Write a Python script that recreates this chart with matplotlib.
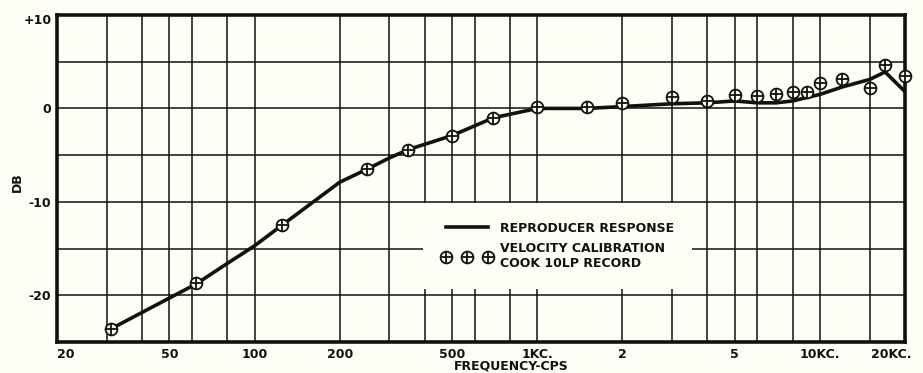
import matplotlib
matplotlib.use('Agg')
import matplotlib.pyplot as plt
from matplotlib.lines import Line2D
from matplotlib.transforms import ScaledTranslation
import numpy as np

# reproducer response curve
freq_curve = [31, 62, 80, 100, 125, 200, 250, 300, 350, 500, 700, 1000, 1500, 2000,
              3000, 4000, 5000, 6000, 7000, 8000, 10000, 12000, 15000, 17000, 20000]
db_curve = [-23.6, -18.8, -16.6, -14.7, -12.5, -7.9, -6.5, -5.3, -4.4, -2.9, -1.0, 0.0, 0.0, 0.2,
            0.5, 0.6, 0.8, 0.6, 0.6, 0.8, 1.5, 2.3, 3.1, 3.9, 1.8]

# velocity calibration points, Cook 10LP record
freq_cal = [31, 62, 125, 250, 350, 500, 700, 1000, 1500, 2000, 3000, 4000, 5000, 6000,
            7000, 8000, 9000, 10000, 12000, 15000, 17000, 20000]
db_cal = [-23.6, -18.7, -12.5, -6.5, -4.4, -2.9, -1.0, 0.1, 0.2, 0.6, 1.2, 0.8, 1.4, 1.3,
          1.5, 1.8, 1.8, 2.7, 3.1, 2.2, 4.6, 3.5]

xtick_vals = [20, 50, 100, 200, 500, 1000, 2000, 5000, 10000, 20000]
xtick_labels = ['20', '50', '100', '200', '500', '1KC.', '2', '5', '10KC.', '20KC.']
xgrid_extra = [30, 40, 60, 80, 300, 400, 600, 800, 3000, 4000, 6000, 8000, 15000]
ytick_vals = [-20, -10, 0, 10]
ytick_labels = ['-20', '-10', '0', '+10']
ygrid_extra = [-25, -15, -5, 5]

bg = '#fefef6'
ink = '#111111'

fig = plt.figure(figsize=(9.23, 3.73), dpi=100, facecolor=bg)
ax = fig.add_axes([57/923, 31/373, 848/923, 327/373], facecolor=bg)

ax.set_xscale('log')
ax.set_xlim(20, 20000)
ax.set_ylim(-25, 10)

ax.set_xticks(xtick_vals)
ax.set_xticklabels(xtick_labels)
ax.set_xticks(xgrid_extra, minor=True)
ax.set_xticklabels([], minor=True)
ax.set_yticks(ytick_vals)
ax.set_yticklabels(ytick_labels)
ax.set_yticks(ygrid_extra, minor=True)
ax.tick_params(which='both', length=0)
ax.tick_params(axis='x', pad=4)
ax.tick_params(axis='y', pad=4)
for lab in ax.get_xticklabels() + ax.get_yticklabels():
    lab.set_fontweight('bold')
    lab.set_fontsize(9)
    lab.set_color(ink)

xl = ax.get_xticklabels()
xl[0].set_horizontalalignment('left')
xl[-1].set_horizontalalignment('right')
xl[-1].set_transform(xl[-1].get_transform() + ScaledTranslation(7/100, 0, fig.dpi_scale_trans))
yl = ax.get_yticklabels()
yl[-1].set_transform(yl[-1].get_transform() + ScaledTranslation(0, -4/100, fig.dpi_scale_trans))

ax.grid(True, which='both', color=ink, linewidth=1.1)
ax.set_axisbelow(True)
for s in ax.spines.values():
    s.set_linewidth(2.6)
    s.set_color(ink)

ax.plot(freq_curve, db_curve, color=ink, linewidth=2.6, solid_capstyle='butt', zorder=3)
ax.plot(freq_cal, db_cal, linestyle='none', marker='o', ms=8.5, mfc=bg, mec=ink, mew=1.3,
        zorder=4, clip_on=False)
ax.plot(freq_cal, db_cal, linestyle='none', marker='+', ms=8.5, mec=ink, mew=1.3,
        zorder=5, clip_on=False)

h_line = Line2D([], [], color=ink, linewidth=2.6)
h_circ = Line2D([], [], linestyle='none', marker='o', ms=8.5, mfc=bg, mec=ink, mew=1.3)
h_plus = Line2D([], [], linestyle='none', marker='+', ms=8.5, mec=ink, mew=1.3)
leg = ax.legend([h_line, (h_circ, h_plus)],
                ['REPRODUCER RESPONSE', 'VELOCITY CALIBRATION\nCOOK 10LP RECORD'],
                loc='upper left', bbox_to_anchor=(0.432, 0.425), numpoints=3,
                handlelength=4.0, handletextpad=0.6, labelspacing=0.6,
                borderpad=1.5, borderaxespad=0.0, frameon=True, facecolor=bg,
                edgecolor='none', framealpha=1.0, fancybox=False,
                prop={'weight': 'bold', 'size': 9})
for t in leg.get_texts():
    t.set_color(ink)
leg.set_zorder(6)

fig.text(17/923, 1 - 182/373, 'DB', rotation=90, ha='center', va='center',
         fontsize=9, fontweight='bold', color=ink)
fig.text(511/923, 1 - 366/373, 'FREQUENCY-CPS', ha='center', va='center',
         fontsize=9, fontweight='bold', color=ink)

fig.savefig('out.png', dpi=100, facecolor=bg)
